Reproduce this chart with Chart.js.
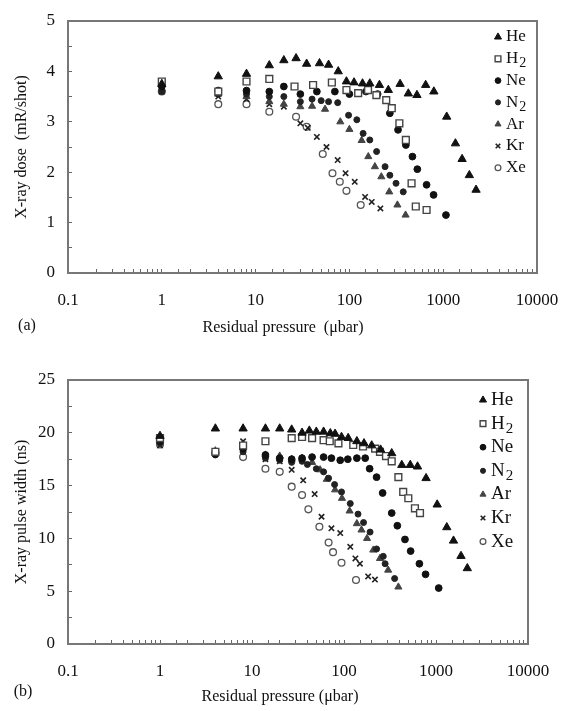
<!DOCTYPE html>
<html>
<head>
<meta charset="utf-8">
<script src="https://cdn.jsdelivr.net/npm/chart.js@4.4.1/dist/chart.umd.min.js"></script>
<style>
  body { margin: 0; background: #fff; }
  canvas { display: block; }
</style>
</head>
<body>
<canvas id="doseChart" width="563" height="345"></canvas>
<canvas id="widthChart" width="563" height="366"></canvas>
<script>
// tick labels
const pressureTicks = ['0.1', '1', '10', '100', '1000', '10000'];
const doseTicks = ['0', '1', '2', '3', '4', '5'];
const widthTicks = ['0', '5', '10', '15', '20', '25'];
const gasNames = ['He', 'H₂', 'Ne', 'N₂', 'Ar', 'Kr', 'Xe'];

// (a) X-ray dose, [pressure µbar, mR/shot]
const doseHe = [[1,3.75],[4,3.9],[8,3.95],[14,4.12],[20,4.22],[27,4.26],[35,4.15],[48,4.16],[60,4.13],[76,4.0],[93,3.8],[112,3.78],[138,3.76],[165,3.76],[209,3.73],[260,3.63],[347,3.75],[425,3.56],[525,3.53],[650,3.73],[795,3.6],[1090,3.1],[1350,2.57],[1590,2.26],[1900,1.94],[2240,1.65]];
const doseH2 = [[1,3.8],[4,3.6],[8,3.8],[14,3.85],[26,3.7],[41,3.73],[65,3.78],[93,3.63],[124,3.57],[158,3.63],[194,3.53],[247,3.43],[283,3.27],[341,2.97],[400,2.64],[460,1.78],[510,1.32],[665,1.25]];
const doseNe = [[1,3.7],[4,3.62],[8,3.62],[14,3.6],[20,3.7],[30,3.55],[45,3.6],[70,3.6],[100,3.55],[150,3.6],[200,3.55],[270,3.17],[330,2.84],[400,2.54],[470,2.31],[530,2.06],[665,1.75],[790,1.55],[1070,1.15]];
const doseN2 = [[1,3.6],[4,3.55],[8,3.55],[14,3.5],[20,3.5],[30,3.4],[40,3.45],[50,3.42],[60,3.4],[75,3.38],[98,3.13],[120,3.04],[140,2.77],[165,2.64],[195,2.41],[240,2.11],[270,1.94],[314,1.78],[375,1.61]];
const doseAr = [[1,3.65],[4,3.55],[8,3.5],[14,3.4],[20,3.35],[30,3.3],[40,3.31],[55,3.25],[80,3.0],[100,2.85],[135,2.63],[159,2.31],[187,2.11],[219,1.91],[266,1.61],[325,1.35],[397,1.15]];
const doseKr = [[1,3.6],[4,3.5],[8,3.45],[14,3.35],[20,3.3],[30,2.97],[36,2.88],[45,2.7],[57,2.5],[75,2.24],[91,1.98],[114,1.81],[147,1.51],[173,1.41],[214,1.28]];
const doseXe = [[1,3.6],[4,3.35],[8,3.35],[14,3.2],[27,3.1],[35,2.9],[52,2.36],[66,1.98],[79,1.81],[93,1.63],[132,1.35]];

// (b) X-ray pulse width, [pressure µbar, ns]
const widthHe = [[1,19.7],[4,20.4],[8,20.4],[14,20.4],[20,20.4],[27,20.3],[35,20.0],[42,20.2],[50,20.1],[60,20.1],[71,19.95],[80,19.9],[94,19.6],[111,19.5],[138,19.2],[165,19.0],[200,18.8],[250,18.4],[330,18.06],[425,16.95],[525,16.95],[630,16.8],[780,15.7],[1030,13.2],[1310,11.05],[1550,9.78],[1870,8.33],[2190,7.17]];
const widthH2 = [[1,19.5],[4,18.2],[8,18.8],[14,19.2],[27,19.5],[35,19.6],[45,19.5],[60,19.3],[70,19.2],[87,19.0],[126,18.85],[161,18.7],[218,18.5],[246,18.2],[286,17.8],[330,17.3],[390,15.8],[440,14.4],[500,13.8],[590,12.85],[670,12.4]];
const widthNe = [[1,19.2],[4,18.0],[8,18.5],[14,17.9],[20,17.6],[27,17.5],[35,17.6],[45,17.7],[60,17.7],[73,17.6],[91,17.4],[110,17.5],[138,17.6],[170,17.6],[190,16.6],[226,15.8],[263,14.3],[330,12.4],[380,11.2],[460,9.9],[530,8.8],[660,7.6],[770,6.6],[1070,5.3]];
const widthN2 = [[1,19.0],[4,17.9],[8,18.2],[14,17.6],[20,17.4],[27,17.2],[35,17.3],[40,17.0],[50,16.6],[60,16.3],[68,15.7],[79,15.1],[94,14.4],[117,13.3],[142,12.3],[163,11.5],[192,10.6],[226,9.0],[267,8.3],[280,7.6],[355,6.2]];
const widthAr = [[1,19.3],[4,18.3],[8,18.6],[14,17.9],[20,17.8],[27,17.5],[35,17.6],[45,17.2],[55,16.5],[65,15.6],[80,14.6],[95,13.8],[115,12.6],[138,11.4],[155,10.8],[178,10.0],[208,8.9],[246,8.1],[302,7.0],[390,5.4]];
const widthKr = [[1,18.8],[4,18.0],[8,19.2],[14,17.5],[20,17.3],[27,16.5],[36,15.5],[48,14.2],[57,12.05],[73,10.96],[91,10.5],[117,9.2],[133,8.1],[149,7.6],[183,6.4],[217,6.1]];
const widthXe = [[1,18.9],[4,18.1],[8,17.7],[14,16.6],[20,16.3],[27,14.9],[35,14.1],[41,12.75],[54,11.1],[68,9.6],[76,8.7],[94,7.7],[135,6.06]];

// marker look for each gas, same order as gasNames
const markers = [
  { pointStyle: 'triangle', radius: 4.8, bg: '#111', border: '#111', bw: 1 },
  { pointStyle: 'rect', radius: 4.8, bg: '#fff', border: '#444', bw: 1.4 },
  { pointStyle: 'circle', radius: 3.4, bg: '#111', border: '#111', bw: 1 },
  { pointStyle: 'circle', radius: 3.0, bg: '#222', border: '#222', bw: 1 },
  { pointStyle: 'triangle', radius: 4.1, bg: '#444', border: '#444', bw: 1 },
  { pointStyle: 'crossRot', radius: 3.8, bg: '#222', border: '#222', bw: 1.6 },
  { pointStyle: 'circle', radius: 3.4, bg: '#fff', border: '#555', bw: 1.3 }
];

const serif = '"Liberation Serif", "DejaVu Serif", serif';

function toPoints(pairs) {
  return pairs.map(p => ({ x: p[0], y: p[1] }));
}

// frame, legend and x title drawn on the canvas
function panelPlugin(cfg) {
  return {
    id: 'panel',
    afterDraw(chart) {
      const ctx = chart.ctx;
      const a = chart.chartArea;
      ctx.save();
      ctx.strokeStyle = '#777';
      ctx.lineWidth = 2;
      ctx.strokeRect(a.left, a.top, a.right - a.left, a.bottom - a.top);

      // legend
      chart.data.datasets.forEach((ds, i) => {
        const y = cfg.legendY + i * cfg.legendStep;
        const m = markers[i];
        ctx.fillStyle = m.bg;
        ctx.strokeStyle = m.border;
        ctx.lineWidth = m.bw;
        Chart.helpers.drawPoint(ctx, { pointStyle: m.pointStyle, radius: m.radius * 0.85, rotation: 0, borderWidth: m.bw }, cfg.legendX, y);
        ctx.fillStyle = '#111';
        ctx.font = cfg.legendSize + 'px ' + serif;
        ctx.textBaseline = 'middle';
        ctx.textAlign = 'left';
        let x = cfg.legendX + 8;
        const name = ds.label;
        const base = name.replace('₂', '');
        ctx.fillText(base, x, y);
        if (name.indexOf('₂') >= 0) {
          x += ctx.measureText(base).width + 1;
          ctx.font = Math.round(cfg.legendSize * 0.8) + 'px ' + serif;
          ctx.fillText('2', x, y + 5);
        }
      });

      // x title and panel letter
      ctx.fillStyle = '#111';
      ctx.font = '16px ' + serif;
      ctx.textAlign = 'center';
      ctx.textBaseline = 'middle';
      ctx.fillText(cfg.xTitle, cfg.xTitleX, cfg.xTitleY);
      ctx.fillText(cfg.letter, cfg.letterX, cfg.letterY);
      ctx.restore();
    }
  };
}

function makeChart(canvasId, series, cfg) {
  const datasets = series.map((pairs, i) => ({
    label: gasNames[i],
    data: toPoints(pairs),
    pointStyle: markers[i].pointStyle,
    pointRadius: markers[i].radius,
    pointBackgroundColor: markers[i].bg,
    pointBorderColor: markers[i].border,
    pointBorderWidth: markers[i].bw,
    showLine: false
  }));

  return new Chart(document.getElementById(canvasId), {
    type: 'scatter',
    data: { datasets: datasets },
    options: {
      responsive: false,
      animation: false,
      layout: { padding: { top: cfg.padTop, right: cfg.padRight, left: 0, bottom: 0 } },
      plugins: {
        legend: { display: false },
        tooltip: { enabled: false }
      },
      scales: {
        x: {
          type: 'logarithmic',
          min: 0.1,
          max: 10000,
          // pin the plot box: no extra room for overhanging end labels
          afterFit: s => { s.height = cfg.xHeight; s.paddingLeft = 0; s.paddingRight = 0; },
          border: { display: false },
          grid: { drawOnChartArea: false, drawTicks: true, tickLength: -4, color: '#666' },
          ticks: {
            autoSkip: false,
            maxRotation: 0,
            padding: 21,
            color: '#111',
            font: { family: serif, size: 17 },
            callback: v => {
              const k = Math.log10(v);
              const r = Math.round(k);
              return Math.abs(k - r) < 1e-6 ? pressureTicks[r + 1] : '';
            }
          }
        },
        y: {
          min: 0,
          max: cfg.yMax,
          afterFit: s => { s.width = 68; s.paddingTop = 0; s.paddingBottom = 0; },
          border: { display: false },
          grid: { drawOnChartArea: false, drawTicks: true, tickLength: -4, color: '#666' },
          title: {
            display: true,
            text: cfg.yTitle,
            color: '#111',
            font: { family: serif, size: 16 },
            padding: { top: 12, bottom: 0 }
          },
          ticks: {
            stepSize: cfg.yStep,
            autoSkip: false,
            padding: 17,
            color: '#111',
            font: { family: serif, size: 17 },
            callback: v => {
              const idx = v / cfg.yLabelStep;
              return Math.abs(idx - Math.round(idx)) < 1e-6 ? cfg.yLabels[Math.round(idx)] : '';
            }
          }
        }
      }
    },
    plugins: [panelPlugin(cfg)]
  });
}

makeChart('doseChart', [doseHe, doseH2, doseNe, doseN2, doseAr, doseKr, doseXe], {
  padTop: 21, padRight: 26, xHeight: 72,
  yMax: 5, yStep: 0.5, yLabelStep: 1, yLabels: doseTicks,
  yTitle: 'X-ray dose  (mR/shot)',
  xTitle: 'Residual pressure  (μbar)', xTitleX: 283, xTitleY: 328,
  letter: '(a)', letterX: 27, letterY: 326,
  legendX: 498, legendY: 37, legendStep: 21.8, legendSize: 17
});

makeChart('widthChart', [widthHe, widthH2, widthNe, widthN2, widthAr, widthKr, widthXe], {
  padTop: 35, padRight: 35, xHeight: 67,
  yMax: 25, yStep: 2.5, yLabelStep: 5, yLabels: widthTicks,
  yTitle: 'X-ray pulse width (ns)',
  xTitle: 'Residual pressure (μbar)', xTitleX: 280, xTitleY: 352,
  letter: '(b)', letterX: 23, letterY: 347,
  legendX: 483, legendY: 55, legendStep: 23.6, legendSize: 19
});
</script>
</body>
</html>
